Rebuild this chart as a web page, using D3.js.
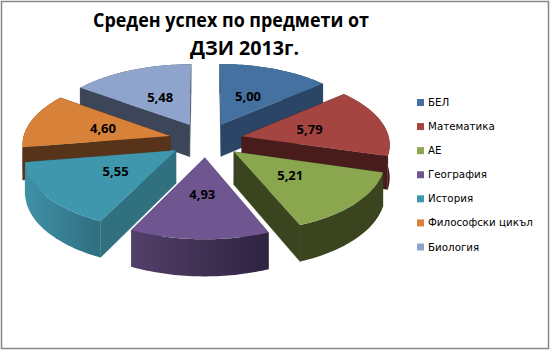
<!DOCTYPE html>
<html><head><meta charset="utf-8">
<script src="https://cdn.jsdelivr.net/npm/d3@7/dist/d3.min.js"></script>
<style>html,body{margin:0;padding:0;background:#fff;overflow:hidden}svg{display:block}</style>
</head><body><div id="c"></div>
<script>
const categories = ["БЕЛ","Математика","АЕ","География","История","Философски цикъл","Биология"];
const values = [5.00,5.79,5.21,4.93,5.55,4.60,5.48];
const titleLines = ["Среден успех по предмети от","ДЗИ 2013г."];
const topColors = ["#44719f","#a54542","#8aa64f","#6f5690","#3f97ae","#d88239","#8fa4cc"];
const cutColors = ["#2a4566","#471c1a","#3a4520","#463657","#30707f","#57331a","#3c4658"];
const wallFrom = ["#2a4566","#471c1a","#3a4520","#534069","#3f91a7","#57331a","#3c4658"];
const wallTo = ["#2a4566","#471c1a","#3a4520","#2e2440","#2f6e80","#57331a","#3c4658"];
const paintOrder = [6,0,5,1,4,2,3];

const W=551,H=351, cx=206, cy=140, A=147.5, B=69.5, depth=32.5, persp=0.1, explode=0.25, labelR=0.48;
const svg=d3.select("#c").append("svg").attr("width",W).attr("height",H);
svg.append("rect").attr("x",1.5).attr("y",1.5).attr("width",547).attr("height",347)
  .attr("fill","#fff").attr("stroke","#868686").attr("stroke-width",1.5);

const sx=d3.scaleLinear().domain([-1,1]).range([cx-A,cx+A]);
const sy=d3.scaleLinear().domain([-1,1]).range([cy-B,cy+B]);
const pie=d3.pie().sort(null).value(d=>d);
const arcs=pie(values);
function project(a,r,mid,z){
  const u=explode*Math.sin(mid)+r*Math.sin(a), v=-explode*Math.cos(mid)-r*Math.cos(a);
  const s=1/(1-persp*v);
  return [sx(u*s), sy(v*s)+z*depth*s];
}
const line=d3.line();
const defs=svg.append("defs");
values.forEach((_,i)=>{
  const g=defs.append("linearGradient").attr("id","w"+i);
  g.append("stop").attr("offset",0).attr("stop-color",wallFrom[i]);
  g.append("stop").attr("offset",1).attr("stop-color",wallTo[i]);
});
const pies=svg.append("g");
paintOrder.forEach(i=>{
  const d=arcs[i], mid=(d.startAngle+d.endAngle)/2;
  const angs=d3.range(0,41).map(k=>d.startAngle+(d.endAngle-d.startAngle)*k/40);
  const g=pies.append("g");
  const apexT=project(0,0,mid,0), apexB=project(0,0,mid,1);
  [d.startAngle,d.endAngle].forEach(a=>{
    g.append("path").attr("fill",cutColors[i]).attr("stroke",cutColors[i]).attr("stroke-width",.4)
     .attr("d",line([apexT,project(a,1,mid,0),project(a,1,mid,1),apexB])+"Z");
  });
  const wall=angs.map(a=>project(a,1,mid,0)).concat(angs.slice().reverse().map(a=>project(a,1,mid,1)));
  g.append("path").attr("fill",`url(#w${i})`).attr("d",line(wall)+"Z");
  const top=[apexT].concat(angs.map(a=>project(a,1,mid,0)));
  g.append("path").attr("fill",topColors[i]).attr("d",line(top)+"Z");
});
const font="'Open Sans','Noto Sans',sans-serif";
const labels=svg.append("g");
arcs.forEach((d,i)=>{
  const mid=(d.startAngle+d.endAngle)/2, p=project(mid,labelR,mid,0);
  labels.append("text").attr("x",p[0]).attr("y",p[1]+4.5).attr("text-anchor","middle")
   .attr("font-family",font).attr("font-weight",700).attr("font-size",13).attr("fill","#000")
   .text(d3.format(".2f")(d.value).replace(".",","));
});
const titleX=[231,244.5], titleY=[27,55], titleLen=[276,109];
titleLines.forEach((t,i)=>{
  svg.append("text").attr("x",titleX[i]).attr("y",titleY[i]).attr("text-anchor","middle")
   .attr("font-family",font).attr("font-weight",700).attr("font-size",20).attr("fill","#000")
   .attr("textLength",titleLen[i]).attr("lengthAdjust","spacingAndGlyphs").text(t);
});
const ly=d3.scalePoint().domain(categories).range([102.5,247]);
const leg=svg.append("g");
categories.forEach((c,i)=>{
  leg.append("rect").attr("x",417).attr("y",ly(c)-3.5).attr("width",7).attr("height",7).attr("fill",topColors[i]);
  leg.append("text").attr("x",428).attr("y",ly(c)+3.5).attr("font-family","'DejaVu Sans',sans-serif")
   .attr("font-size",10.3).attr("fill","#000").text(c);
});
</script></body></html>
